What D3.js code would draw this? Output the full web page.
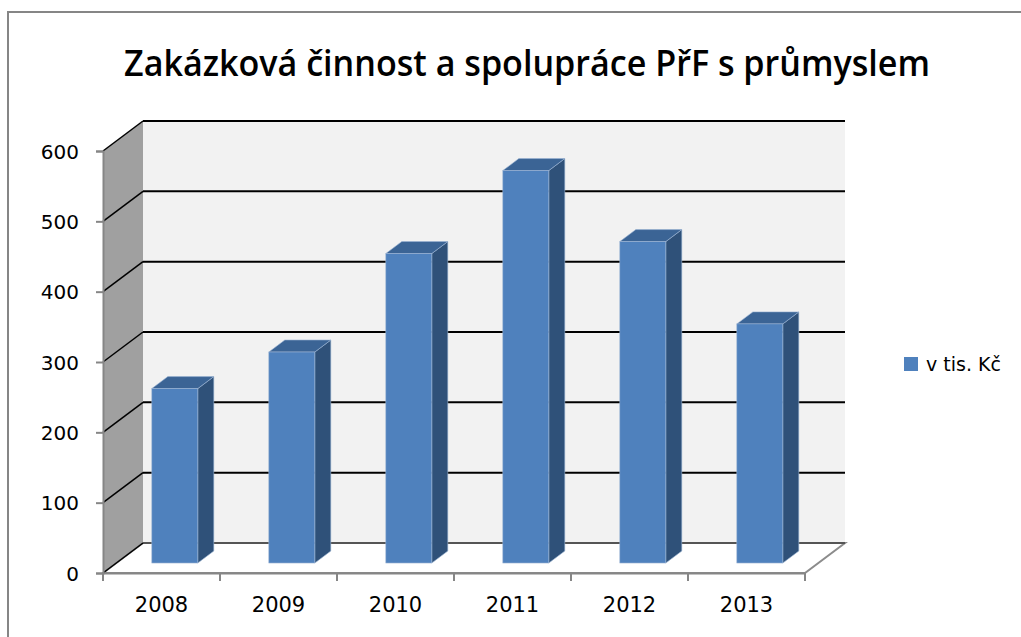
<!DOCTYPE html>
<html>
<head>
<meta charset="utf-8">
<script src="https://cdn.jsdelivr.net/npm/d3@7"></script>
<style>
  body { margin: 0; background: #fff; overflow: hidden; }
  svg { display: block; }
</style>
</head>
<body>
<svg id="chart" width="1021" height="637"></svg>
<script>
// chart data
var title = "Zakázková činnost a spolupráce PřF s průmyslem";
var years = ["2008", "2009", "2010", "2011", "2012", "2013"];
var values = [248, 300, 440, 558, 457, 340];
var yTicks = [0, 100, 200, 300, 400, 500, 600];
var seriesName = "v tis. Kč";

// plot box (front face) and 3d depth of the floor
var plotLeft = 103, plotRight = 805, plotBottom = 573, plotTop = 151;
var depthX = 40, depthY = 30;
// bars sit between these depth fractions
var z0 = 0.333, z1 = 0.733;

var svg = d3.select("#chart");

// outer frame
svg.append("rect")
    .attr("x", 8).attr("y", 12)
    .attr("width", 1060).attr("height", 680)
    .attr("fill", "none")
    .attr("stroke", "#868686")
    .attr("stroke-width", 2);

// title
svg.append("text")
    .attr("x", 527).attr("y", 76)
    .attr("text-anchor", "middle")
    .attr("textLength", 806)
    .attr("lengthAdjust", "spacingAndGlyphs")
    .style("font-family", "'Open Sans', 'Liberation Sans', Arial, sans-serif")
    .style("font-weight", "600")
    .style("font-size", "36px")
    .attr("fill", "#000")
    .text(title);

// scales
var x = d3.scaleBand().domain(years).range([plotLeft, plotRight])
    .paddingInner(0.607).paddingOuter(0.3035);
var xSlot = d3.scaleBand().domain(years).range([plotLeft, plotRight]).padding(0);
var y = d3.scaleLinear().domain([0, 600]).range([plotBottom, plotTop]);

function pts(arr){ return arr.map(function(p){ return p.join(","); }).join(" "); }

var g = svg.append("g");

// back wall
g.append("rect")
    .attr("x", plotLeft + depthX).attr("y", y(600) - depthY)
    .attr("width", plotRight - plotLeft)
    .attr("height", y(0) - y(600))
    .attr("fill", "#f2f2f2");

// left side wall
g.append("polygon")
    .attr("points", pts([
        [plotLeft, y(600)], [plotLeft + depthX, y(600) - depthY],
        [plotLeft + depthX, y(0) - depthY], [plotLeft, y(0)]
    ]))
    .attr("fill", "#a0a0a0");

// floor
g.append("polygon")
    .attr("points", pts([
        [plotLeft, y(0)], [plotLeft + depthX, y(0) - depthY],
        [plotRight + depthX, y(0) - depthY], [plotRight, y(0)]
    ]))
    .attr("fill", "#fff")
    .attr("stroke", "#8c8c8c")
    .attr("stroke-width", 2);

// gridlines on back wall + diagonals on side wall
yTicks.forEach(function(t){
    var yy = y(t);
    g.append("line")
        .attr("x1", plotLeft + depthX).attr("x2", plotRight + depthX)
        .attr("y1", yy - depthY).attr("y2", yy - depthY)
        .attr("stroke", t === 0 ? "#555" : "#000")
        .attr("stroke-width", 2);
    g.append("line")
        .attr("x1", plotLeft).attr("y1", yy)
        .attr("x2", plotLeft + depthX).attr("y2", yy - depthY)
        .attr("stroke", "#000")
        .attr("stroke-width", 1.5);
});

// y axis
var yAxis = g.append("g")
    .attr("transform", "translate(" + plotLeft + ",0)")
    .call(d3.axisLeft(y).tickValues(yTicks).tickSize(7).tickPadding(17));
yAxis.select(".domain").attr("stroke", "#868686").attr("stroke-width", 2);
yAxis.selectAll(".tick line").attr("stroke", "#868686").attr("stroke-width", 2);
yAxis.selectAll(".tick text")
    .attr("dy", "0.36em")
    .style("font-family", "'DejaVu Sans', sans-serif")
    .style("font-size", "20px")
    .attr("fill", "#000");

// x axis: labels centered in slots, ticks at slot borders
var xAxis = g.append("g")
    .attr("transform", "translate(0," + plotBottom + ")")
    .call(d3.axisBottom(xSlot).tickSize(0).tickPadding(24));
xAxis.select(".domain").attr("stroke", "#868686").attr("stroke-width", 2);
xAxis.selectAll(".tick text")
    .style("font-family", "'DejaVu Sans', sans-serif")
    .style("font-size", "21px")
    .attr("fill", "#000");
d3.range(years.length + 1).forEach(function(i){
    var xx = plotLeft + i * xSlot.step();
    xAxis.append("line")
        .attr("x1", xx).attr("x2", xx)
        .attr("y1", 0).attr("y2", 8)
        .attr("stroke", "#868686")
        .attr("stroke-width", 2);
});

// 3d bars
var fx0 = z0 * depthX, fy0 = z0 * depthY;
var bdx = (z1 - z0) * depthX, bdy = (z1 - z0) * depthY;
var bars = g.selectAll(".bar")
    .data(years.map(function(d, i){ return {year: d, value: values[i]}; }))
    .enter().append("g")
    .attr("class", "bar");

bars.each(function(d){
    var b = d3.select(this);
    var xl = x(d.year) + fx0, xr = xl + x.bandwidth();
    var yt = y(d.value) - fy0, yb = y(0) - fy0;
    // side
    b.append("polygon")
        .attr("points", pts([[xr, yt], [xr + bdx, yt - bdy], [xr + bdx, yb - bdy], [xr, yb]]))
        .attr("fill", "#2f5179")
        .attr("stroke", "#9bb3d3").attr("stroke-width", 0.6);
    // top
    b.append("polygon")
        .attr("points", pts([[xl, yt], [xl + bdx, yt - bdy], [xr + bdx, yt - bdy], [xr, yt]]))
        .attr("fill", "#3b6495")
        .attr("stroke", "#9bb3d3").attr("stroke-width", 0.6);
    // front
    b.append("rect")
        .attr("x", xl).attr("y", yt)
        .attr("width", x.bandwidth()).attr("height", yb - yt)
        .attr("fill", "#4f81bd")
        .attr("stroke", "#9bb3d3").attr("stroke-width", 0.6);
});

// legend
var legend = svg.append("g").attr("transform", "translate(904,357)");
legend.append("rect")
    .attr("width", 14).attr("height", 14)
    .attr("fill", "#4f81bd");
legend.append("text")
    .attr("x", 22).attr("y", 7).attr("dy", "0.36em")
    .style("font-family", "'DejaVu Sans', sans-serif")
    .style("font-size", "19px")
    .attr("fill", "#000")
    .text(seriesName);
</script>
</body>
</html>
